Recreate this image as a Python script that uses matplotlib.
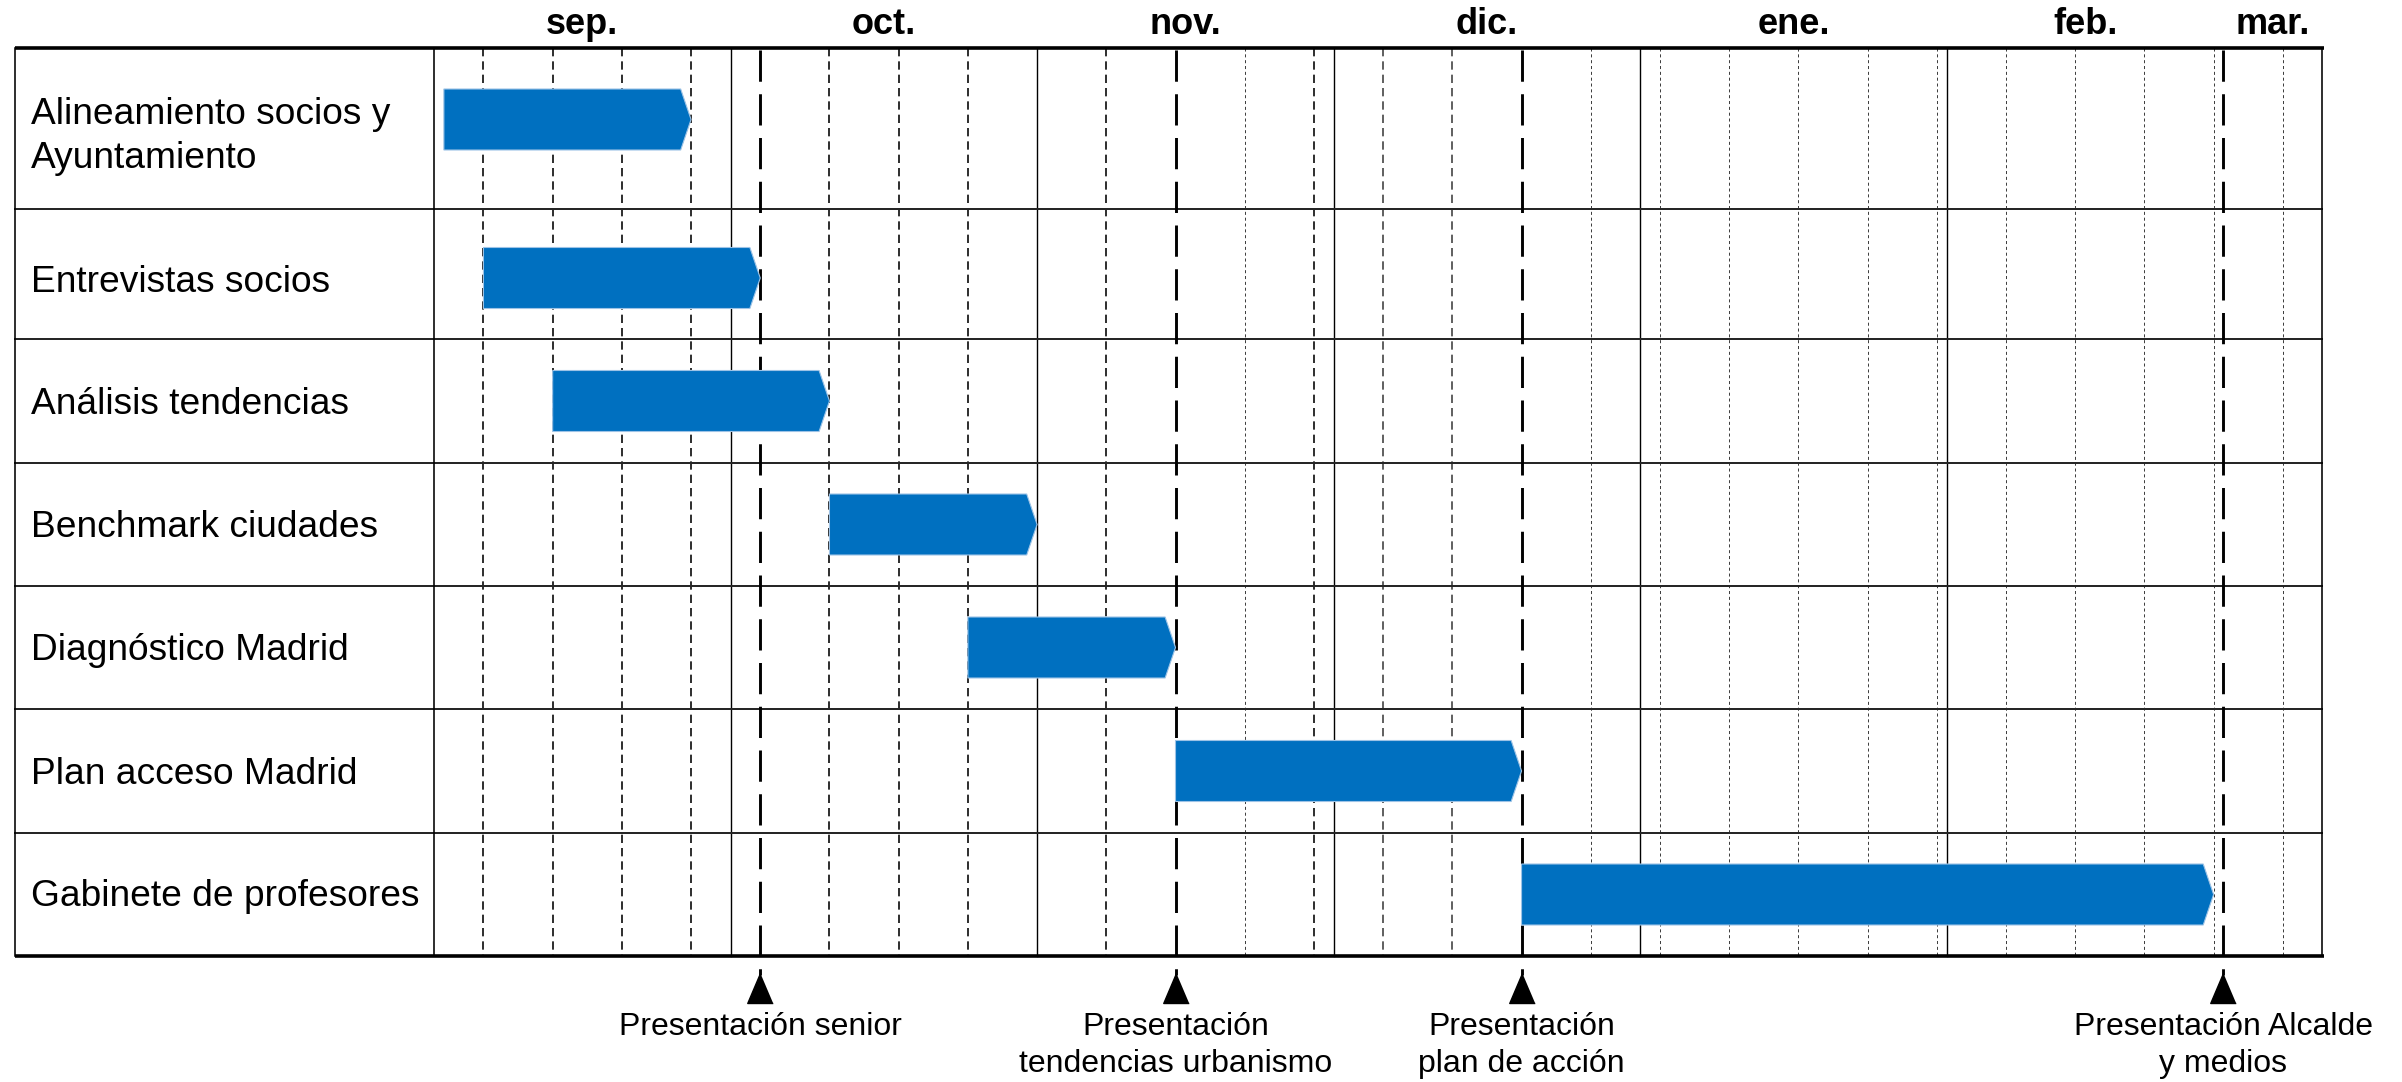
"""
Gantt del proyecto: tareas, semanas e hitos de presentación.
"""
import numpy as np
import pandas as pd
import matplotlib
matplotlib.use('Agg')
import matplotlib.pyplot as plt
import matplotlib.dates as mdates
from matplotlib.patches import Polygon

plt.rcParams['font.family'] = ['Liberation Sans', 'DejaVu Sans']
plt.rcParams['lines.scale_dashes'] = False

###############################################################################
# Data
tasks = ['Alineamiento socios y\nAyuntamiento', 'Entrevistas socios',
         'Análisis tendencias', 'Benchmark ciudades', 'Diagnóstico Madrid',
         'Plan acceso Madrid', 'Gabinete de profesores']
task_start = ['2020-09-02', '2020-09-06', '2020-09-13', '2020-10-11',
              '2020-10-25', '2020-11-15', '2020-12-20']
task_end = ['2020-09-27', '2020-10-04', '2020-10-11', '2020-11-01',
            '2020-11-15', '2020-12-20', '2021-02-28']

milestones = ['2020-10-04', '2020-11-15', '2020-12-20', '2021-03-01']
milestone_labels = ['Presentación senior',
                    'Presentación\ntendencias urbanismo',
                    'Presentación\nplan de acción',
                    'Presentación Alcalde\ny medios']

month_labels = ['sep.', 'oct.', 'nov.', 'dic.', 'ene.', 'feb.', 'mar.']
month_starts = ['2020-09-01', '2020-10-01', '2020-11-01', '2020-12-01',
                '2021-01-01', '2021-02-01', '2021-03-01']
axis_start, axis_end = '2020-09-01', '2021-03-11'

###############################################################################
# Layout (pixels)
W, H = 2402, 1082
x_label_left = 15
x_chart_left = 434
px_per_day = (2223.5 - 434) / 181
rows = [48, 209, 339, 463, 586, 709, 833, 956]
bar_shift = [-9, 4, 0, 0, 0, 0, 0]
label_shift = [8, 9, 4, 3, 3, 3, 2]
bar_h = 61
tip = 1.05  # days
blue = '#0070C0'
PT = 0.72  # points per pixel at dpi 100

d2n = lambda s: mdates.date2num(pd.Timestamp(s))
x0 = d2n(axis_start)
x_end = d2n(axis_end)


def px(p):
    return x0 + (p - x_chart_left) / px_per_day


fig = plt.figure(figsize=(W / 100, H / 100), dpi=100)
ax = fig.add_axes([0, 0, 1, 1])
ax.axis('off')
ax.set_xlim(px(0), px(W))
ax.set_ylim(H, 0)

top, bottom = rows[0], rows[-1]

# weekly grid
mdates_set = set(milestones) | set(month_starts)
for d in pd.date_range('2020-09-06', axis_end, freq='7D'):
    s = d.strftime('%Y-%m-%d')
    if s in mdates_set:
        continue
    if d >= pd.Timestamp('2020-12-27') or s == '2020-11-22':
        ax.plot([d2n(d)] * 2, [top, bottom], color='#404040', lw=1.0 * PT,
                dashes=(2.2, 2.0), zorder=1)
    elif d >= pd.Timestamp('2020-12-01'):
        ax.plot([d2n(d)] * 2, [top, bottom], color='#303030', lw=1.5 * PT,
                dashes=(6.0, 3.6), zorder=1)
    else:
        ax.plot([d2n(d)] * 2, [top, bottom], color='black', lw=1.6 * PT,
                dashes=(6.0, 3.6), zorder=1)

# month boundaries
for s in month_starts[1:]:
    if s in milestones:
        continue
    ax.plot([d2n(s)] * 2, [top, bottom], color='black', lw=1.4 * PT, zorder=1.5)

# row separators
for y in rows[1:-1]:
    ax.plot([px(x_label_left), x_end], [y, y], color='#262626', lw=2.0 * PT,
            zorder=2)

# table frame
ax.plot([px(x_label_left), x_end + 0.15], [top, top], color='black',
        lw=3.6 * PT, solid_capstyle='butt', zorder=5)
ax.plot([px(x_label_left), x_end + 0.15], [bottom, bottom], color='black',
        lw=3.6 * PT, solid_capstyle='butt', zorder=5)
for xx in [px(x_label_left), x0, x_end]:
    ax.plot([xx, xx], [top, bottom], color='black', lw=1.6 * PT, zorder=5)

# milestones
tri = [(0, 1), (-0.85, -1), (0.85, -1)]
for m, lab in zip(milestones, milestone_labels):
    xm = d2n(m)
    ax.plot([xm, xm], [top + 2, 975], color='black', lw=2.9 * PT,
            dashes=(22.5, 9.0), zorder=3)
    ax.plot(xm, 988, marker=tri, ms=30 * PT, color='black', zorder=3)
    ax.text(xm, 1012, lab, ha='center', va='top', fontsize=23,
            linespacing=1.32, zorder=6)

# task bars
for i, (name, s, e) in enumerate(zip(tasks, task_start, task_end)):
    yc = (rows[i] + rows[i + 1]) / 2
    yb = yc + bar_shift[i]
    xs, xe = d2n(s), d2n(e)
    verts = [(xs, yb - bar_h / 2), (xe - tip, yb - bar_h / 2), (xe, yb),
             (xe - tip, yb + bar_h / 2), (xs, yb + bar_h / 2)]
    ax.add_patch(Polygon(verts, closed=True, facecolor=blue,
                         edgecolor='#9DC3E6', lw=0.8, zorder=4))
    ax.text(px(31), yc + label_shift[i], name, ha='left', va='center',
            fontsize=26.7, linespacing=1.3, zorder=6)

# month headers
ends = month_starts[1:] + [axis_end]
for lab, s, e in zip(month_labels, month_starts, ends):
    a, b = max(d2n(s), x0), min(d2n(e), x_end)
    ax.text((a + b) / 2, 34, lab, ha='center', va='baseline', fontsize=26,
            fontweight='bold')

fig.savefig('out.png', dpi=100)
